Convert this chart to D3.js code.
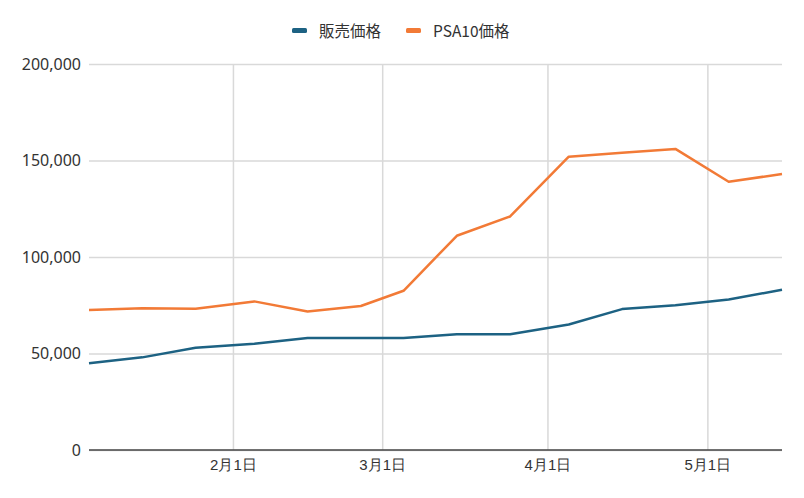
<!DOCTYPE html>
<html>
<head>
<meta charset="utf-8">
<script src="https://cdn.jsdelivr.net/npm/d3@7"></script>
<style>
  body { margin: 0; background: #fff; }
  svg { display: block; font-family: "Noto Sans CJK JP", "Noto Sans", sans-serif; }
</style>
</head>
<body>
<div id="chart"></div>
<script>
// données
const dates = ["2023-01-05", "2023-01-15", "2023-01-25", "2023-02-05", "2023-02-15", "2023-02-25",
  "2023-03-05", "2023-03-15", "2023-03-25", "2023-04-05", "2023-04-15", "2023-04-25",
  "2023-05-05", "2023-05-15"];
const salePrice = [45000, 48000, 53000, 55000, 58000, 58000, 58000, 60000, 60000, 65000, 73000, 75000, 78000, 83000];
const psa10Price = [72500, 73400, 73200, 77000, 71800, 74600, 82500, 111000, 121000, 152000, 154000, 156000, 139000, 143000];
const xTicks = ["2023-02-01", "2023-03-01", "2023-04-01", "2023-05-01"];
const yTicks = [0, 50000, 100000, 150000, 200000];

const series = [
  { label: "販売価格", col: "#1d6283", values: salePrice },
  { label: "PSA10価格", col: "#f27a36", values: psa10Price },
];

const width = 804, height = 498;
const margin = { top: 64, right: 22, bottom: 48, left: 89 };
const w = width - margin.left - margin.right;
const h = height - margin.top - margin.bottom;

const parse = d3.timeParse("%Y-%m-%d");
const tidy = dates.map(parse);

const svg = d3.select("#chart").append("svg")
  .attr("width", width).attr("height", height);

const g = svg.append("g").attr("transform", `translate(${margin.left},${margin.top})`);

// échelles
const scaleT = d3.scaleTime().domain(d3.extent(tidy)).range([0, w]);
const scaleY = d3.scaleLinear().domain([0, 200000]).range([h, 0]);

// grille horizontale + axe Y
g.append("g")
  .call(d3.axisLeft(scaleY).tickValues(yTicks).tickSize(0).tickPadding(8)
    .tickFormat(d => d3.format(",")(d)))
  .call(a => a.select(".domain").remove())
  .call(a => a.selectAll(".tick line").clone().attr("x2", w).attr("stroke", "#d9d9d9").attr("stroke-width", 1.5))
  .call(a => a.selectAll("text").attr("fill", "#333").style("font-size", "16px")
    .style("font-family", "'Noto Sans', sans-serif"));

// grille verticale + axe X
g.append("g")
  .attr("transform", `translate(0,${h})`)
  .call(d3.axisBottom(scaleT).tickValues(xTicks.map(parse)).tickSize(0).tickPadding(9)
    .tickFormat(d => `${d.getMonth() + 1}月${d.getDate()}日`))
  .call(a => a.select(".domain").remove())
  .call(a => a.selectAll(".tick line").clone().attr("y2", -h).attr("stroke", "#d9d9d9").attr("stroke-width", 1.5))
  .call(a => a.selectAll("text").attr("fill", "#333").style("font-size", "15px"));

// ligne de base
g.append("line")
  .attr("x1", 0).attr("x2", w).attr("y1", scaleY(0)).attr("y2", scaleY(0))
  .attr("stroke", "#444").attr("stroke-width", 1.5);

// lignes
const line = d3.line()
  .x((d, i) => scaleT(tidy[i]))
  .y(d => scaleY(d));

g.selectAll(".serie")
  .data(series)
  .join("path")
  .attr("class", "serie")
  .attr("d", d => line(d.values))
  .attr("fill", "none")
  .attr("stroke", d => d.col)
  .attr("stroke-width", 2.5)
  .attr("stroke-linejoin", "round");

// légende
const legend = svg.append("g").attr("transform", "translate(292,31)");
const items = legend.selectAll("g")
  .data(series)
  .join("g")
  .attr("transform", (d, i) => `translate(${i * 114},0)`);

items.append("rect")
  .attr("x", 0).attr("y", -3)
  .attr("width", 15).attr("height", 5).attr("rx", 1.5)
  .attr("fill", d => d.col);

items.append("text")
  .attr("x", 27).attr("y", 6)
  .attr("fill", "#333")
  .style("font-size", "15.5px")
  .text(d => d.label);
</script>
</body>
</html>
